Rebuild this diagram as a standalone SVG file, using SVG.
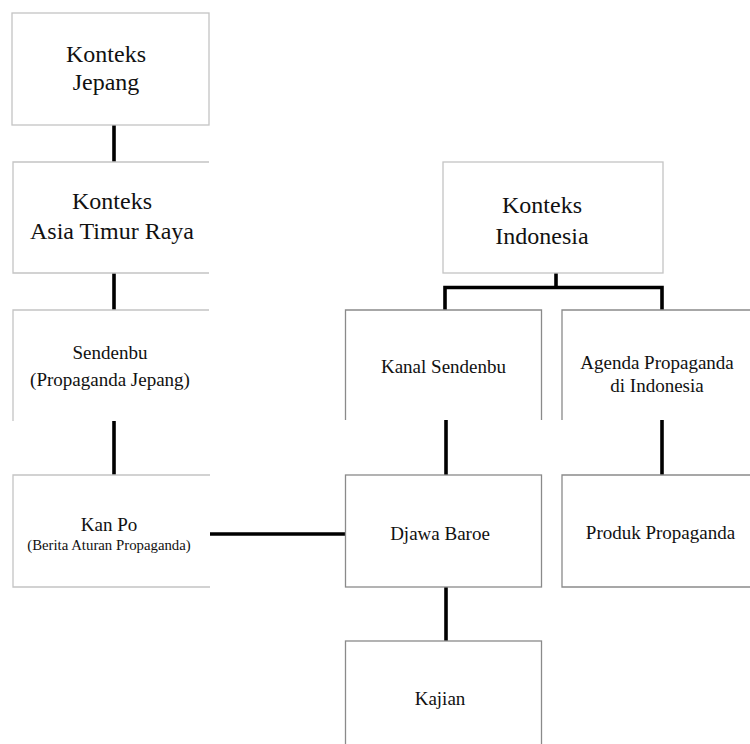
<svg xmlns="http://www.w3.org/2000/svg" width="750" height="744" viewBox="0 0 750 744">
<style>
.bg{fill:#fff;stroke:none}
.bd{fill:none;stroke:#c4c4c4;stroke-width:1.3}
.bd2{fill:none;stroke:#8a8a8a;stroke-width:1.3}
.t{font-family:"Liberation Serif","Times New Roman",serif;fill:#111;text-anchor:middle}
.big{font-size:24px}
.mid{font-size:19px}
.sm{font-size:14.8px}
.c{fill:none;stroke:#000;stroke-width:3.6;stroke-linecap:butt}
</style>
<rect x="0" y="0" width="750" height="744" fill="#fff"/>
<g id="connectors">
<line class="c" x1="114" y1="125" x2="114" y2="162"/>
<line class="c" x1="114" y1="273" x2="114" y2="310"/>
<line class="c" x1="114" y1="421" x2="114" y2="475"/>
<line class="c" x1="210" y1="534" x2="346" y2="534"/>
<polyline class="c" points="445,310 445,287.5 662,287.5 662,310"/>
<line class="c" x1="556" y1="273" x2="556" y2="287.5"/>
<line class="c" x1="446" y1="420" x2="446" y2="475"/>
<line class="c" x1="662" y1="420" x2="662" y2="475"/>
<line class="c" x1="446" y1="587" x2="446" y2="641"/>
</g>
<g id="konteks-jepang">
<rect class="bg" x="12" y="13" width="197" height="112"/>
<rect class="bd" x="12" y="13" width="197" height="112"/>
<text class="t big" x="106" y="62">Konteks</text>
<text class="t big" x="106" y="89.5">Jepang</text>
</g>
<g id="konteks-asia">
<rect class="bg" x="13" y="162" width="196" height="111"/>
<path class="bd" d="M209,162 H13 V273 H209"/>
<text class="t big" x="112" y="209">Konteks</text>
<text class="t big" x="112" y="239">Asia Timur Raya</text>
</g>
<g id="sendenbu">
<rect class="bg" x="13" y="310" width="196" height="111"/>
<path class="bd" d="M209,310 H13 V421"/>
<text class="t mid" x="110" y="359">Sendenbu</text>
<text class="t mid" x="110" y="385.5">(Propaganda Jepang)</text>
</g>
<g id="kan-po">
<rect class="bg" x="13" y="475" width="197" height="112"/>
<path class="bd" d="M210,475 H13 V587 H210"/>
<text class="t mid" x="109" y="531">Kan Po</text>
<text class="t sm" x="109" y="550">(Berita Aturan Propaganda)</text>
</g>
<g id="konteks-indonesia">
<rect class="bg" x="443" y="162" width="220" height="111"/>
<rect class="bd" x="443" y="162" width="220" height="111"/>
<text class="t big" x="542" y="213">Konteks</text>
<text class="t big" x="542" y="243.5">Indonesia</text>
</g>
<g id="kanal-sendenbu">
<rect class="bg" x="345.5" y="310" width="196" height="110"/>
<path class="bd2" d="M345.5,420 V310 H541.5 V420"/>
<text class="t mid" x="443.5" y="373">Kanal Sendenbu</text>
</g>
<g id="agenda">
<rect class="bg" x="562" y="310" width="190" height="110"/>
<path class="bd2" d="M562,420 V310 H752"/>
<text class="t mid" x="657" y="369">Agenda Propaganda</text>
<text class="t mid" x="657" y="392">di Indonesia</text>
</g>
<g id="djawa-baroe">
<rect class="bg" x="345.5" y="475" width="196" height="112"/>
<rect class="bd2" x="345.5" y="475" width="196" height="112"/>
<text class="t mid" x="440" y="539.5">Djawa Baroe</text>
</g>
<g id="produk">
<rect class="bg" x="562" y="475" width="190" height="112"/>
<path class="bd2" d="M752,475 H562 V587 H752"/>
<text class="t mid" x="660.5" y="539">Produk Propaganda</text>
</g>
<g id="kajian">
<rect class="bg" x="345.5" y="641" width="196" height="110"/>
<rect class="bd2" x="345.5" y="641" width="196" height="110"/>
<text class="t mid" x="440" y="704.5">Kajian</text>
</g>
</svg>
